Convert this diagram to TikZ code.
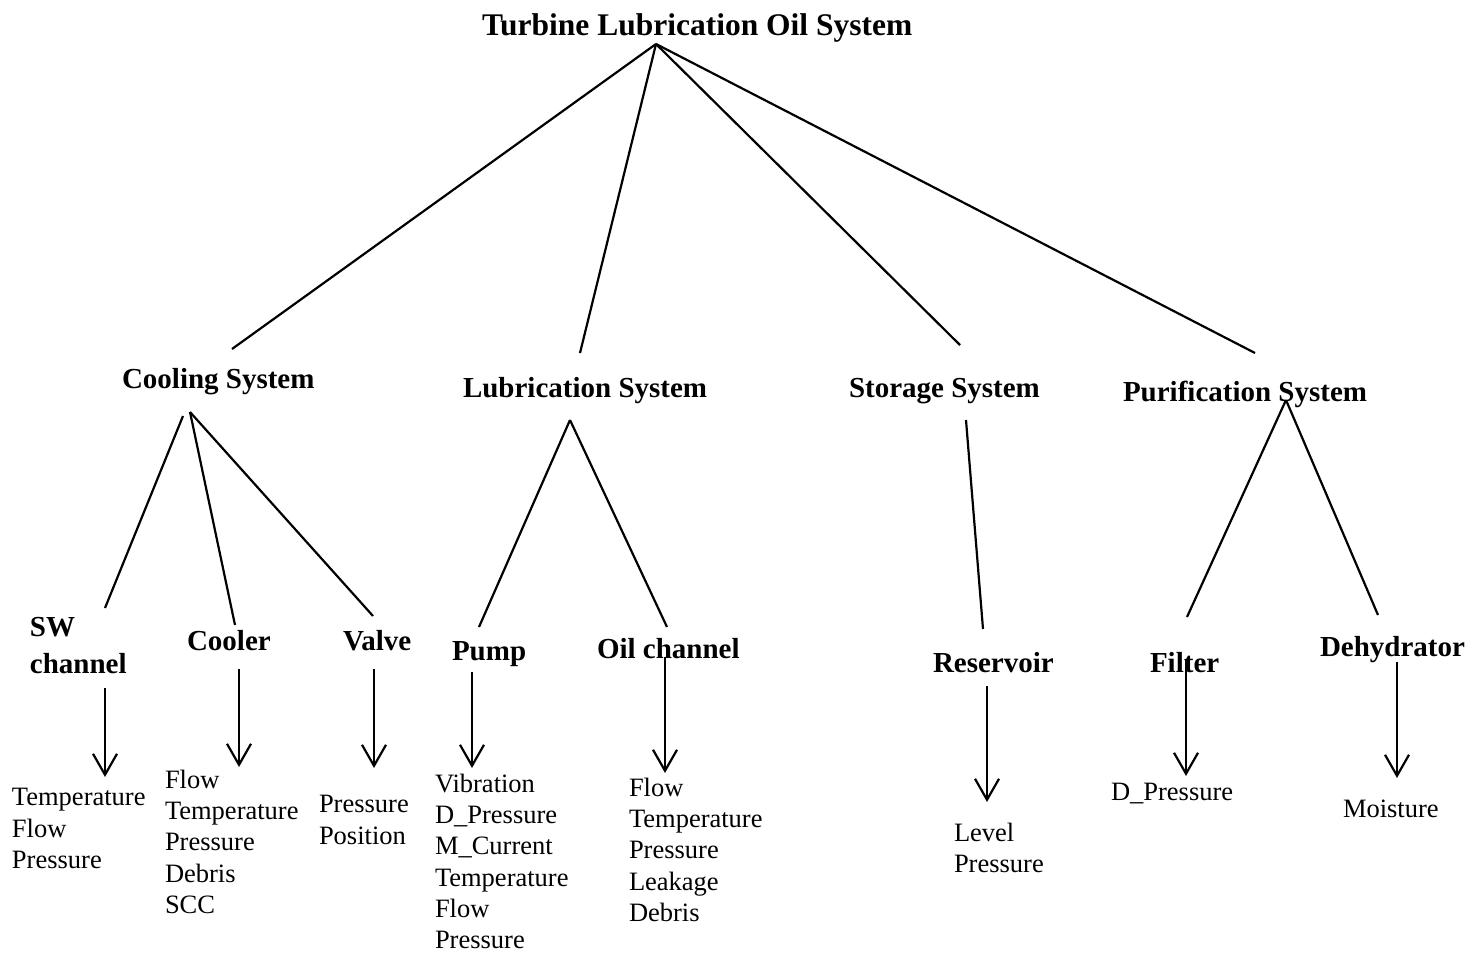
\documentclass[tikz,border=0pt]{standalone}
\usepackage{fontspec}
\setmainfont{Liberation Serif}
\usetikzlibrary{arrows.meta}

\begin{document}
\begin{tikzpicture}[x=1pt,y=-1pt,
  every node/.style={inner sep=0pt,outer sep=0pt},
  heading/.style={anchor=base west,font=\bfseries\fontsize{31.5}{36}\selectfont},
  subsys/.style={anchor=base west,font=\bfseries\fontsize{29}{37}\selectfont},
  params/.style={anchor=north west,align=left,font=\fontsize{26.5}{31.3}\selectfont},
  param/.style={anchor=base west,font=\fontsize{26.5}{31.3}\selectfont},
  link/.style={line width=2.2pt},
  feed/.style={line width=2.2pt,-{Straight Barb[length=21pt,width=24pt,line width=2.2pt]}}]

\useasboundingbox (0,0) rectangle (1484,953);

% ---- top level --------------------------------------------------------
\node[heading] (top) at (482,35) {Turbine Lubrication Oil System};

% ---- systems ----------------------------------------------------------
\node[subsys] (cool) at (122,388) {Cooling System};
\node[subsys] (lube) at (463,397) {Lubrication System};
\node[subsys] (stor) at (849,397) {Storage System};
\node[subsys] (puri) at (1123,401) {Purification System};

% ---- components -------------------------------------------------------
\node[subsys,anchor=north west,align=left] (swch) at (30,617) {SW\\channel};
\node[subsys] (cooler) at (187,650) {Cooler};
\node[subsys] (valve) at (343,650) {Valve};
\node[subsys] (pump) at (452,660) {Pump};
\node[subsys] (oilch) at (597,658) {Oil channel};
\node[subsys] (resv) at (933,672) {Reservoir};
\node[subsys] (filt) at (1150,672) {Filter};
\node[subsys] (dehy) at (1320,656) {Dehydrator};

% ---- monitored parameters ---------------------------------------------
\node[params] (p-sw) at (12,788.5) {Temperature\\Flow\\Pressure};
\node[params] (p-cooler) at (165,770) {Flow\\Temperature\\Pressure\\Debris\\SCC};
\node[params] (p-valve) at (319,795.5) {Pressure\\Position};
\node[params] (p-pump) at (435,774) {Vibration\\D\_Pressure\\M\_Current\\Temperature\\Flow\\Pressure};
\node[params] (p-oil) at (629,778) {Flow\\Temperature\\Pressure\\Leakage\\Debris};
\node[params] (p-resv) at (954,823) {Level\\Pressure};
\node[param] (p-filt) at (1111,800) {D\_Pressure};
\node[param] (p-dehy) at (1343,817) {Moisture};

% ---- branch points and line ends --------------------------------------
\coordinate (top-root) at (656,44);
\coordinate (cool-in) at (232,349);
\coordinate (lube-in) at (580,353);
\coordinate (stor-in) at (960,345);
\coordinate (puri-in) at (1255,353);

\coordinate (cool-root-a) at (183,416);
\coordinate (cool-root-b) at (190,412);
\coordinate (lube-root) at (570,420);
\coordinate (stor-root) at (966,420);
\coordinate (puri-root) at (1286,400);

\coordinate (swch-in) at (105,608);
\coordinate (cooler-in) at (235,625);
\coordinate (valve-in) at (373,616);
\coordinate (pump-in) at (479,627);
\coordinate (oilch-in) at (667,627);
\coordinate (resv-in) at (983,629);
\coordinate (filt-in) at (1187,617);
\coordinate (dehy-in) at (1378,615);

% ---- tree links -------------------------------------------------------
\draw[link] (top-root) -- (cool-in);
\draw[link] (top-root) -- (lube-in);
\draw[link] (top-root) -- (stor-in);
\draw[link] (top-root) -- (puri-in);

\draw[link] (cool-root-a) -- (swch-in);
\draw[link] (cool-root-b) -- (cooler-in);
\draw[link] (cool-root-b) -- (valve-in);
\draw[link] (lube-root) -- (pump-in);
\draw[link] (lube-root) -- (oilch-in);
\draw[link] (stor-root) -- (resv-in);
\draw[link] (puri-root) -- (filt-in);
\draw[link] (puri-root) -- (dehy-in);

% ---- parameter arrows -------------------------------------------------
\coordinate (swch-out) at (105,688);   \coordinate (p-sw-in) at (105,777);
\coordinate (cooler-out) at (239,669); \coordinate (p-cooler-in) at (239,767);
\coordinate (valve-out) at (374,669);  \coordinate (p-valve-in) at (374,768);
\coordinate (pump-out) at (472,672);   \coordinate (p-pump-in) at (472,768);
\coordinate (oilch-out) at (665,657);  \coordinate (p-oil-in) at (665,773);
\coordinate (resv-out) at (987,686);   \coordinate (p-resv-in) at (987,802);
\coordinate (filt-out) at (1186,660);  \coordinate (p-filt-in) at (1186,776);
\coordinate (dehy-out) at (1397,662);  \coordinate (p-dehy-in) at (1397,778);

\draw[feed] (swch-out) -- (p-sw-in);
\draw[feed] (cooler-out) -- (p-cooler-in);
\draw[feed] (valve-out) -- (p-valve-in);
\draw[feed] (pump-out) -- (p-pump-in);
\draw[feed] (oilch-out) -- (p-oil-in);
\draw[feed] (resv-out) -- (p-resv-in);
\draw[feed] (filt-out) -- (p-filt-in);
\draw[feed] (dehy-out) -- (p-dehy-in);

\end{tikzpicture}
\end{document}
